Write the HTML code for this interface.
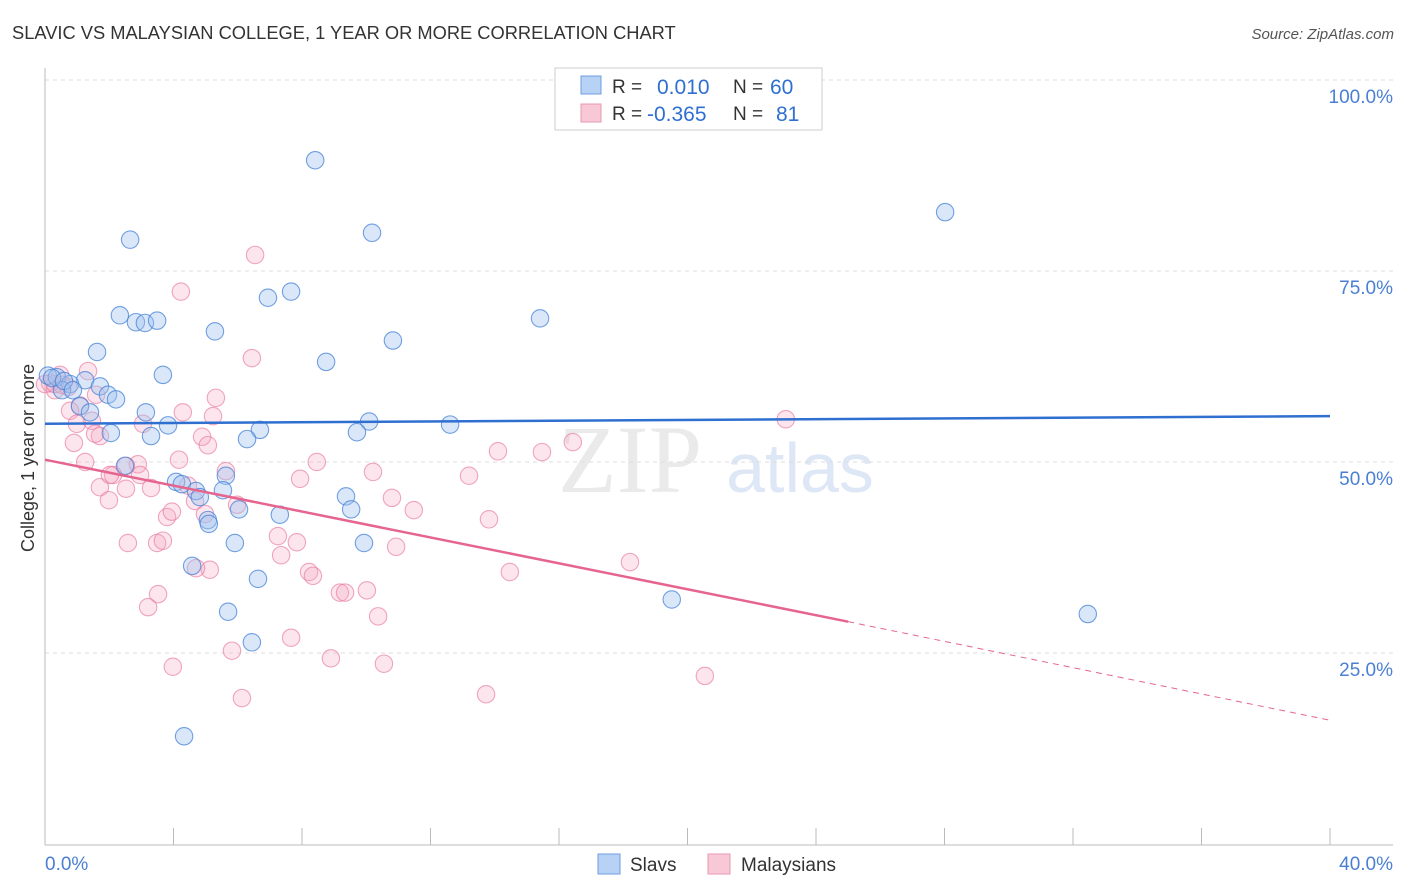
<!DOCTYPE html>
<html><head><meta charset="utf-8"><style>
body{margin:0;background:#fff;font-family:"Liberation Sans",sans-serif}
svg{display:block}
</style></head><body>
<svg width="1406" height="892" id="chart">
<text x="12" y="39" font-size="18.3" fill="#333">SLAVIC VS MALAYSIAN COLLEGE, 1 YEAR OR MORE CORRELATION CHART</text>
<text x="1394" y="39" font-size="15" fill="#555" font-style="italic" text-anchor="end">Source: ZipAtlas.com</text>
<g><text x="630" y="492" font-size="96" fill="#ddd" font-family="Liberation Serif,serif" text-anchor="middle" opacity="0.6">ZIP</text><text x="800" y="492" font-size="70" fill="#c8d8f0" text-anchor="middle" opacity="0.6">atlas</text></g>
<g id="grid"></g>
<line x1="45" y1="68" x2="45" y2="845" stroke="#bbb"/>
<line x1="45" y1="845" x2="1393" y2="845" stroke="#bbb"/>
<text x="34" y="458" font-size="18" fill="#333" text-anchor="middle" transform="rotate(-90 34 458)">College, 1 year or more</text>
<text x="45" y="870" font-size="19" fill="#4a7fd4">0.0%</text>
<text x="1393" y="870" font-size="19" fill="#4a7fd4" text-anchor="end">40.0%</text>
<g id="pts"></g>
<g id="lines"></g>
<g>
<rect x="555" y="68" width="267" height="62" fill="#fff" stroke="#ccc"/>
<rect x="581" y="76" width="20" height="18" fill="#b8d2f5" stroke="#6d9de0"/>
<rect x="581" y="104" width="20" height="18" fill="#f8c8d6" stroke="#e899b3"/>
<text x="612" y="93" font-size="19" fill="#333">R =</text><text x="657" y="94" font-size="21" fill="#2f6fd0">0.010</text>
<text x="733" y="93" font-size="19" fill="#333">N =</text><text x="770" y="94" font-size="21" fill="#2f6fd0">60</text>
<text x="612" y="120" font-size="19" fill="#333">R =</text><text x="647" y="121" font-size="21" fill="#2f6fd0">-0.365</text>
<text x="733" y="120" font-size="19" fill="#333">N =</text><text x="776" y="121" font-size="21" fill="#2f6fd0">81</text>
</g>
<g>
<rect x="598" y="854" width="22" height="20" fill="#b8d2f5" stroke="#6d9de0"/>
<text x="630" y="871" font-size="19" fill="#333">Slavs</text>
<rect x="708" y="854" width="22" height="20" fill="#f8c8d6" stroke="#e899b3"/>
<text x="741" y="871" font-size="19" fill="#333">Malaysians</text>
</g>
</svg>
<script>
const yTicks=[100,75,50,25];
const xTicks=[0,4,8,12,16,20,24,28,32,36,40];
const slavsX=[8.41,28.02,2.65,10.18,6.94,7.66,2.33,2.83,3.11,3.49,5.29,15.41,10.83,1.62,8.75,3.67,10.09,0.09,0.37,1.25,0.78,1.71,0.53,1.96,2.21,1.09,1.40,3.14,3.83,12.61,9.71,6.69,2.05,3.30,6.29,2.49,5.63,4.08,4.26,4.70,4.82,5.54,6.04,5.07,5.10,7.31,9.37,9.53,5.91,9.93,4.58,6.63,19.51,5.70,32.46,6.44,4.33,0.22,0.59,0.87];
const slavsY=[89.5,82.7,79.1,80.0,71.5,72.3,69.2,68.3,68.2,68.5,67.1,68.8,65.9,64.4,63.1,61.4,55.3,61.3,61.1,60.7,60.2,59.9,59.4,58.8,58.2,57.3,56.5,56.5,54.8,54.9,53.9,54.2,53.8,53.4,53.0,49.5,48.2,47.4,47.1,46.2,45.4,46.3,43.8,42.4,41.9,43.1,45.5,43.8,39.4,39.4,36.4,34.7,32.0,30.4,30.1,26.4,14.1,61.0,60.6,59.4];
const malX=[6.54,4.23,6.44,1.34,0.47,0.16,0.72,0.31,1.09,0.78,4.29,5.32,5.23,1.46,0.99,3.05,1.71,1.56,4.89,5.07,16.43,14.10,15.47,0.90,1.25,4.17,2.89,2.52,8.46,10.21,5.63,13.20,7.94,2.12,2.96,1.71,2.52,3.30,4.45,1.99,4.67,5.98,10.80,11.48,3.80,3.95,4.98,13.82,7.25,7.84,10.93,2.58,3.49,3.67,7.35,18.21,14.47,8.22,8.34,5.13,4.70,3.52,9.18,9.34,10.02,3.21,10.37,7.66,5.82,8.90,10.55,3.98,20.54,13.73,6.13,23.06,0.0,0.31,0.53,1.59,2.02];
const malY=[77.1,72.3,63.6,61.9,61.4,60.3,59.8,59.4,57.4,56.7,56.5,58.4,56.0,55.4,55.0,55.0,53.4,53.7,53.3,52.2,52.6,51.4,51.3,52.5,50.0,50.3,49.7,49.5,50.0,48.7,48.8,48.2,47.8,48.3,48.3,46.7,46.5,46.6,46.9,45.0,44.9,44.4,45.3,43.7,42.8,43.5,43.2,42.5,40.3,39.5,38.9,39.4,39.4,39.7,37.8,36.9,35.6,35.6,35.1,35.9,36.1,32.7,32.9,32.9,33.2,31.0,29.8,27.0,25.3,24.3,23.6,23.2,22.0,19.6,19.1,55.6,60.2,60.2,60.1,58.8,48.3];
const NS='http://www.w3.org/2000/svg';
const X=v=>45+v/40*1285, Y=v=>844-v/100*764;
const grid=document.getElementById('grid');
yTicks.forEach(t=>{
 const l=document.createElementNS(NS,'line');
 l.setAttribute('x1',45);l.setAttribute('x2',1393);l.setAttribute('y1',Y(t));l.setAttribute('y2',Y(t));
 l.setAttribute('stroke','#ddd');l.setAttribute('stroke-dasharray','4,4');
 
 
 grid.appendChild(l);
 const tx=document.createElementNS(NS,'text');
 tx.setAttribute('x',1393);tx.setAttribute('y',Y(t)+23);tx.setAttribute('text-anchor','end');
 tx.setAttribute('font-size','19');tx.setAttribute('fill','#4a7fd4');tx.textContent=t.toFixed(1)+'%';
 
 
 grid.appendChild(tx);
});
xTicks.forEach(t=>{
 const l=document.createElementNS(NS,'line');
 l.setAttribute('x1',X(t));l.setAttribute('x2',X(t));l.setAttribute('y1',828);l.setAttribute('y2',845);
 l.setAttribute('stroke','#bbb');
 
 
 grid.appendChild(l);
});
const pts=document.getElementById('pts');
function dots(xs,ys,fill,stroke,name){
 xs.forEach((x,i)=>{
  const c=document.createElementNS(NS,'circle');
  c.setAttribute('cx',X(x));c.setAttribute('cy',Y(ys[i]));c.setAttribute('r',8.7);
  c.setAttribute('fill',fill);c.setAttribute('stroke',stroke);c.setAttribute('stroke-width','1.1');
  
  
  pts.appendChild(c);
 });
}
dots(malX,malY,'rgba(246,170,195,0.3)','rgba(232,120,160,0.65)','malaysian-point');
dots(slavsX,slavsY,'rgba(160,195,240,0.4)','rgba(70,130,215,0.75)','slav-point');
const lines=document.getElementById('lines');
function ln(x1,y1,x2,y2,col,w,dash,name){
 const l=document.createElementNS(NS,'line');
 l.setAttribute('x1',X(x1));l.setAttribute('y1',Y(y1));l.setAttribute('x2',X(x2));l.setAttribute('y2',Y(y2));
 l.setAttribute('stroke',col);l.setAttribute('stroke-width',w);if(dash)l.setAttribute('stroke-dasharray',dash);
 
 
 lines.appendChild(l);
}
ln(0,55.0,40,56.0,'#2f6fd0',2.5,null,'slavs-trend-line');
ln(0,50.3,25,29.1,'#e6658f',2.5,null,'malaysians-trend-line');
ln(25,29.1,40,16.2,'#e6658f',1,'6,5','malaysians-trend-extension');
</script>
</body></html>
